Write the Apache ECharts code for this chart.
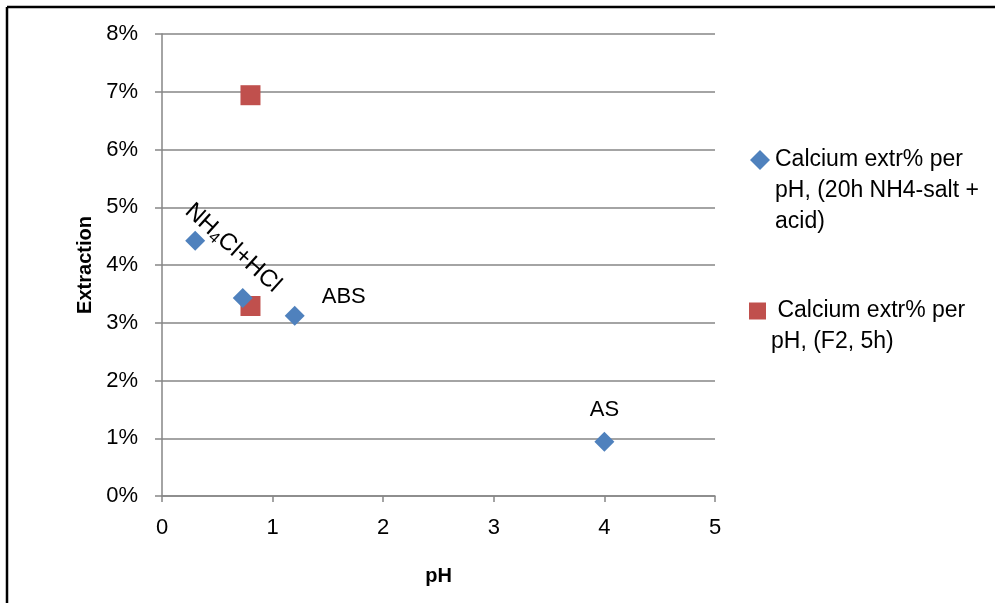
<!DOCTYPE html>
<html>
<head>
<meta charset="utf-8">
<script src="https://cdn.jsdelivr.net/npm/echarts@6/dist/echarts.min.js"></script>
<style>
    html, body { margin: 0; padding: 0; background: #fff; }
    #chart { width: 995px; height: 603px; }
</style>
</head>
<body>
<div id="chart"></div>
<script>
// 数据
var blueName = 'Calcium extr% per pH, (20h NH4-salt + acid)';
var blueLegend = ['Calcium extr% per', 'pH, (20h NH4-salt +', 'acid)'];
var bluePH = [0.3, 0.73, 1.2, 4.0];
var blueExtr = [4.42, 3.43, 3.12, 0.94];
var blueLabels = ['NH4Cl+HCl', '', 'ABS', 'AS'];

var redName = 'Calcium extr% per pH, (F2, 5h)';
var redLegend = [' Calcium extr% per', 'pH, (F2, 5h)'];
var redPH = [0.8, 0.8];
var redExtr = [6.94, 3.29];

var xTicks = [0, 1, 2, 3, 4, 5];
var yTicks = [0, 1, 2, 3, 4, 5, 6, 7, 8];

(function () {
    var myChart = echarts.init(document.getElementById('chart'));
    var font = '"Liberation Sans", Arial, sans-serif';
    var gray = '#868686';

    // 每个标签的位置 (offset 在旋转后的坐标系里)
    var labelPos = {
        'NH4Cl+HCl': { offset: [33, -20], rotate: -42 },
        'ABS': { offset: [49, -19], rotate: 0 },
        'AS': { offset: [0, -32], rotate: 0 }
    };

    var blueData = bluePH.map(function (x, i) {
        var item = { value: [x, blueExtr[i]] };
        var txt = blueLabels[i];
        if (txt) {
            var p = labelPos[txt];
            item.label = {
                show: true,
                position: 'inside',
                offset: p.offset,
                rotate: p.rotate,
                align: 'center',
                verticalAlign: 'middle',
                formatter: txt === 'NH4Cl+HCl' ? '{n|NH}{s|4}{n|Cl+HCl}' : txt
            };
        }
        return item;
    });
    var redData = redPH.map(function (x, i) {
        return [x, redExtr[i]];
    });

    // 图例前面补空行，使图标对齐第一行
    function legendText(lines) {
        var pad = [];
        for (var i = 1; i < lines.length; i++) pad.push('');
        return pad.concat(lines).join('\n');
    }

    var option = {
        backgroundColor: '#fff',
        animation: false,
        textStyle: { fontFamily: font },
        grid: { left: 162, right: 280, top: 34, bottom: 107 },
        legend: [{
            data: [blueName],
            left: 750,
            top: 160 - 31 * 5 / 2,
            padding: 0,
            itemWidth: 20,
            itemHeight: 20,
            textStyle: { fontSize: 23, lineHeight: 31, color: '#000', fontFamily: font },
            formatter: function () { return legendText(blueLegend); }
        }, {
            data: [redName],
            left: 749,
            top: 311 - 31 * 3 / 2,
            padding: 0,
            itemWidth: 17,
            itemHeight: 17,
            textStyle: { fontSize: 23, lineHeight: 31, color: '#000', fontFamily: font },
            formatter: function () { return legendText(redLegend); }
        }],
        xAxis: {
            type: 'value',
            min: xTicks[0],
            max: xTicks[xTicks.length - 1],
            interval: 1,
            name: 'pH',
            nameLocation: 'middle',
            nameGap: 70,
            nameTextStyle: { fontSize: 20, fontWeight: 'bold', color: '#000', fontFamily: font },
            axisLine: { lineStyle: { color: gray, width: 1.5 } },
            axisTick: { show: true, length: 6, lineStyle: { color: gray, width: 1.5 } },
            axisLabel: { fontSize: 22, color: '#000', margin: 21, fontFamily: font },
            splitLine: { show: false }
        },
        yAxis: {
            type: 'value',
            min: yTicks[0],
            max: yTicks[yTicks.length - 1],
            interval: 1,
            name: 'Extraction',
            nameLocation: 'middle',
            nameGap: 66,
            nameRotate: 90,
            nameTextStyle: { fontSize: 20, fontWeight: 'bold', color: '#000', fontFamily: font },
            axisLine: { show: true, lineStyle: { color: gray, width: 1.5 } },
            axisTick: { show: true, length: 7, lineStyle: { color: gray, width: 1.5 } },
            axisLabel: { fontSize: 22, color: '#000', margin: 24, formatter: '{value}%', fontFamily: font },
            splitLine: { show: true, lineStyle: { color: gray, width: 1.5 } }
        },
        series: [{
            name: blueName,
            type: 'scatter',
            symbol: 'diamond',
            symbolSize: 20,
            itemStyle: { color: '#4F81BD', opacity: 1 },
            label: {
                color: '#000',
                fontSize: 22,
                fontFamily: font,
                rich: {
                    n: { fontSize: 24, color: '#000', fontFamily: font },
                    s: { fontSize: 16, color: '#000', fontFamily: font, padding: [11, 0, 0, 0] }
                }
            },
            data: blueData,
            z: 3
        }, {
            name: redName,
            type: 'scatter',
            symbol: 'rect',
            symbolSize: 20,
            itemStyle: { color: '#C0504D', opacity: 1 },
            data: redData,
            z: 2
        }],
        graphic: [{
            type: 'line',
            shape: { x1: 7, y1: 7, x2: 995, y2: 7 },
            style: { stroke: '#000', lineWidth: 2.5 }
        }, {
            type: 'line',
            shape: { x1: 7, y1: 7, x2: 7, y2: 603 },
            style: { stroke: '#000', lineWidth: 2.5 }
        }]
    };

    myChart.setOption(option);
    window.addEventListener('resize', function () {
        myChart.resize();
    });
})();
</script>
</body>
</html>
